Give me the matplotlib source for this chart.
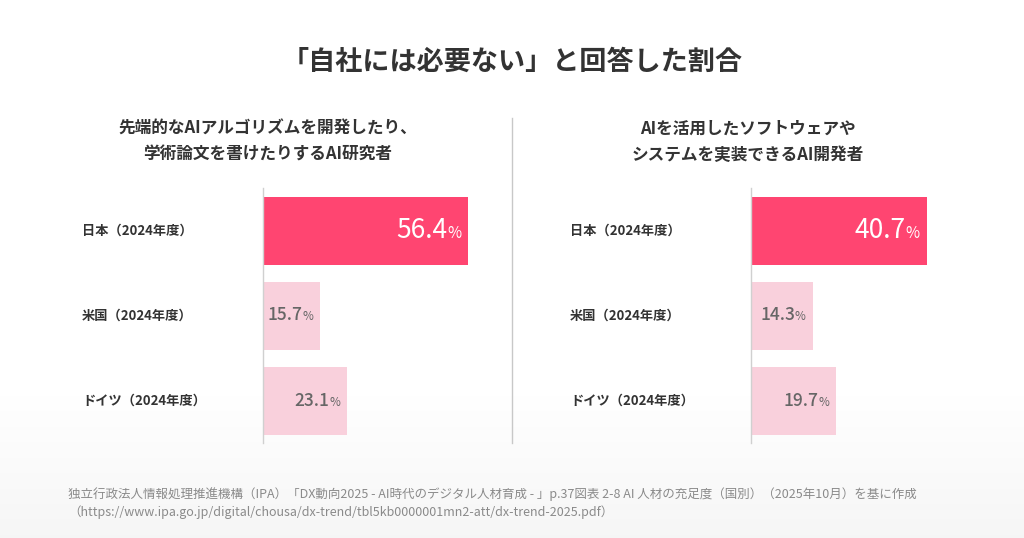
"""「自社には必要ない」と回答した割合 — 日米独の比較図."""

import matplotlib.pyplot as plt
import numpy as np
from matplotlib.lines import Line2D
from matplotlib.offsetbox import AnnotationBbox, HPacker, TextArea

plt.rcParams["font.family"] = ["Noto Sans CJK JP", "DejaVu Sans"]

TITLE = "「自社には必要ない」と回答した割合"
COUNTRIES = ["日本（2024年度）", "米国（2024年度）", "ドイツ（2024年度）"]
RESEARCHER_TITLE = "先端的なAIアルゴリズムを開発したり、\n学術論文を書けたりするAI研究者"
RESEARCHER_VALUES = [56.4, 15.7, 23.1]
DEVELOPER_TITLE = "AIを活用したソフトウェアや\nシステムを実装できるAI開発者"
DEVELOPER_VALUES = [40.7, 14.3, 19.7]
SOURCE_LINES = [
    "独立行政法人情報処理推進機構（IPA）「DX動向2025 - AI時代のデジタル人材育成 - 」p.37図表 2-8 AI 人材の充足度（国別）（2025年10月）を基に作成",
    "（https://www.ipa.go.jp/digital/chousa/dx-trend/tbl5kb0000001mn2-att/dx-trend-2025.pdf）",
]

W, H = 1024, 538
HIGHLIGHT = "#ff4571"
LIGHT = "#f9d0dc"
DARK_TEXT = "#333333"
VALUE_TEXT = "#666666"


def px(x, y):
    return x / W, 1 - y / H


def draw_panel(fig, left_px, xmax, values, subtitle, title_x, label_x):
    ax = fig.add_axes([left_px / W, 1 - 443 / H, 225 / W, 255 / H])
    ypos = np.arange(len(values))
    colors = [HIGHLIGHT] + [LIGHT] * (len(values) - 1)
    ax.barh(ypos, values, height=0.8, color=colors, zorder=2)
    ax.set_xlim(0, xmax)
    ax.set_ylim(2.5, -0.5)
    ax.set_xticks([])
    ax.set_yticks([])
    for side in ["top", "right", "bottom"]:
        ax.spines[side].set_visible(False)
    ax.spines["left"].set_color("#d0d0d0")
    ax.spines["left"].set_linewidth(1.0)
    ax.patch.set_alpha(0)

    for i, (label, val) in enumerate(zip(COUNTRIES, values)):
        ax.annotate(label, xy=(label_x / W, i), xycoords=("figure fraction", "data"),
                    ha="left", va="center", fontsize=9.5, fontweight="bold", color=DARK_TEXT)
        if i == 0:
            num_props = dict(fontsize=19, color="white")
            pct_props = dict(fontsize=11, color="white")
        else:
            num_props = dict(fontsize=12.5, color=VALUE_TEXT, fontweight="medium")
            pct_props = dict(fontsize=8.5, color=VALUE_TEXT)
        box = HPacker(children=[TextArea(f"{val:.1f}", textprops=num_props),
                                TextArea("%", textprops=pct_props)],
                      align="baseline", pad=0, sep=0)
        ab = AnnotationBbox(box, (val, i), xybox=(-5, 0), boxcoords="offset points",
                            box_alignment=(1, 0.5), frameon=False, pad=0)
        ab.set_zorder(3)
        ax.add_artist(ab)

    fig.text(*px(title_x, 142), subtitle, ha="center", va="center", fontsize=12,
             fontweight="bold", color=DARK_TEXT, linespacing=1.55)
    return ax


def main():
    fig = plt.figure(figsize=(W / 100, H / 100), dpi=100)

    # faint grey fade toward the bottom edge
    bg = fig.add_axes([0, 0, 1, 1], zorder=-10)
    grad = np.ones((H, 1))
    rows = np.arange(H)
    fade = np.clip((rows - 380) / (H - 380), 0, 1)
    grad[:, 0] = 1 - 0.04 * fade
    bg.imshow(grad, cmap="gray", vmin=0, vmax=1, aspect="auto", extent=[0, 1, 0, 1])
    bg.axis("off")

    fig.text(*px(512, 62), TITLE, ha="center", va="center", fontsize=19.5,
             fontweight="bold", color=DARK_TEXT)

    draw_panel(fig, 263, 225 / 3.635, RESEARCHER_VALUES, RESEARCHER_TITLE, 268, 82)
    draw_panel(fig, 751, 225 / 4.32, DEVELOPER_VALUES, DEVELOPER_TITLE, 748, 570)

    fig.add_artist(Line2D([512 / W, 512 / W], [1 - 118 / H, 1 - 443 / H],
                          transform=fig.transFigure, color="#c8c8c8", linewidth=1.0))

    fig.text(*px(68, 494), SOURCE_LINES[0], ha="left", va="center", fontsize=9, color="#8a8a8a")
    fig.text(*px(68, 512), SOURCE_LINES[1], ha="left", va="center", fontsize=9, color="#8a8a8a")

    fig.savefig("out.png", dpi=100)


if __name__ == "__main__":
    main()
